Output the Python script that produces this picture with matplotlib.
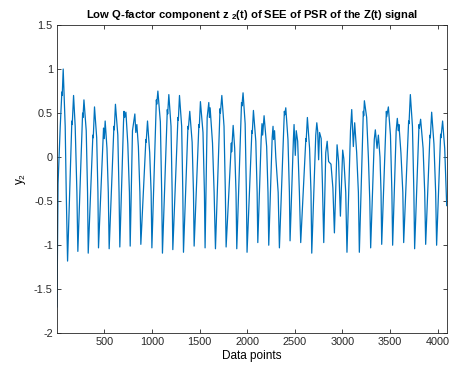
import matplotlib
matplotlib.use('Agg')
import matplotlib.pyplot as plt
from matplotlib.ticker import FormatStrFormatter

plt.rcParams['font.family'] = ['Liberation Sans', 'DejaVu Sans']
plt.rcParams['mathtext.fontset'] = 'custom'
plt.rcParams['mathtext.rm'] = 'Liberation Sans'
plt.rcParams['mathtext.bf'] = 'Liberation Sans:bold'
plt.rcParams['axes.unicode_minus'] = False

# vertices of the signal (peaks, troughs, shoulders)
sample_idx = [
    1, 12, 35, 52, 56, 66, 87, 98,
    112, 157, 161, 175, 192, 210,
    220, 270, 274, 284, 308, 322,
    329, 378, 382, 395, 418, 431,
    437, 490, 498, 507, 526, 540,
    549, 599, 603, 615, 640, 653,
    661, 700, 705, 712, 725, 745, 762,
    770, 794, 819, 829, 840, 856, 872,
    882, 935, 938, 952, 975, 990,
    998, 1045, 1049, 1061, 1087, 1101,
    1109, 1160, 1164, 1176, 1199, 1211,
    1218, 1272, 1276, 1288, 1311, 1323,
    1330, 1377, 1381, 1396, 1421, 1435,
    1442, 1492, 1496, 1508, 1535, 1550,
    1557, 1579, 1596, 1603, 1610, 1635, 1652,
    1666, 1714, 1718, 1733, 1756, 1770,
    1778, 1826, 1833, 1836, 1852, 1868, 1882,
    1890, 1940, 1944, 1956, 1978, 1991,
    1998, 2049, 2053, 2065, 2090, 2104,
    2111, 2146, 2155, 2162, 2177, 2204, 2218,
    2226, 2262, 2271, 2277, 2287, 2300, 2325,
    2338, 2390, 2395, 2405, 2428, 2443,
    2450, 2485, 2492, 2505, 2515, 2530, 2548,
    2562, 2616, 2619, 2632, 2655, 2670,
    2678, 2720, 2731, 2740, 2750, 2760, 2777, 2790,
    2804, 2825, 2840, 2855, 2880, 2900,
    2916, 2944, 2960,
    2979, 3003, 3015, 3035,
    3048, 3085, 3098, 3115, 3129, 3150, 3168,
    3178, 3220, 3224, 3231, 3255, 3273, 3288,
    3297, 3335, 3346, 3364, 3378, 3395, 3406,
    3413, 3462, 3466, 3483, 3505, 3520,
    3528, 3565, 3577, 3588, 3594, 3615, 3635,
    3644, 3696, 3700, 3714, 3736, 3751,
    3759, 3805, 3809, 3822, 3848, 3865,
    3875, 3920, 3924, 3938, 3962, 3980,
    3990, 4032, 4036, 4053, 4075, 4096,
]
z2 = [
    -1.70, -0.30, 0.35, 0.74, 0.70, 1.00, 0.35, -0.40,
    -1.18, 0.41, 0.37, 0.70, 0.35, -0.40,
    -1.07, 0.50, 0.45, 0.65, 0.30, -0.40,
    -1.09, 0.25, 0.22, 0.57, 0.22, -0.40,
    -1.03, 0.33, 0.21, 0.41, 0.10, -0.40,
    -1.04, 0.35, 0.31, 0.60, 0.25, -0.40,
    -1.02, 0.40, 0.52, 0.45, 0.51, 0.15, -0.40,
    -1.01, 0.30, 0.49, 0.28, 0.37, 0.12, -0.40,
    -0.99, 0.20, 0.17, 0.41, 0.05, -0.40,
    -1.03, 0.65, 0.60, 0.75, 0.40, -0.40,
    -1.09, 0.54, 0.49, 0.71, 0.35, -0.40,
    -1.05, 0.45, 0.42, 0.70, 0.35, -0.40,
    -1.08, 0.35, 0.32, 0.52, 0.17, -0.40,
    -1.01, 0.37, 0.34, 0.63, 0.28, -0.40,
    -1.03, 0.45, 0.62, 0.45, 0.56, 0.16, -0.40,
    -1.04, 0.55, 0.50, 0.70, 0.35, -0.40,
    -1.02, 0.00, 0.16, 0.06, 0.36, 0.10, -0.40,
    -1.04, 0.62, 0.58, 0.73, 0.38, -0.40,
    -1.08, 0.30, 0.27, 0.53, 0.18, -0.40,
    -0.97, 0.20, 0.38, 0.25, 0.47, 0.12, -0.40,
    -1.00, 0.22, 0.35, 0.20, 0.30, 0.00, -0.40,
    -1.03, 0.52, 0.48, 0.56, 0.20, -0.40,
    -0.95, 0.20, 0.37, 0.02, 0.30, 0.18, -0.40,
    -0.97, 0.21, 0.18, 0.45, 0.10, -0.40,
    -1.09, 0.25, 0.39, 0.30, -0.03, 0.28, 0.21, -0.30,
    -0.97, 0.05, 0.18, -0.05, -0.08, -0.35,
    -0.86, 0.14, -0.05,
    -0.67, 0.08, -0.02, -0.40,
    -1.08, 0.30, 0.54, 0.12, 0.39, 0.05, -0.40,
    -1.08, 0.52, 0.47, 0.64, 0.45, 0.00, -0.50,
    -1.03, 0.20, 0.31, 0.10, 0.25, 0.00, -0.40,
    -0.99, 0.52, 0.46, 0.57, 0.25, -0.40,
    -1.00, 0.30, 0.44, 0.30, 0.37, 0.05, -0.40,
    -0.97, 0.41, 0.38, 0.71, 0.35, -0.40,
    -1.04, 0.37, 0.33, 0.43, 0.10, -0.40,
    -0.99, 0.25, 0.22, 0.51, 0.15, -0.40,
    -1.00, 0.26, 0.22, 0.41, 0.10, -0.55,
]

x_ticks = [500, 1000, 1500, 2000, 2500, 3000, 3500, 4000]
y_ticks = [-2, -1.5, -1, -0.5, 0, 0.5, 1, 1.5]

fig = plt.figure(figsize=(4.59, 3.67), dpi=100)
ax = fig.add_axes([0.1242, 0.0918, 0.8490, 0.8401])

ax.plot(sample_idx, z2, color='#0072BD', linewidth=0.9)

ax.set_xlim(1, 4096)
ax.set_ylim(-2, 1.5)
ax.set_xticks(x_ticks)
ax.set_yticks(y_ticks)
ax.yaxis.set_major_formatter(FormatStrFormatter('%g'))
ax.tick_params(direction='in', length=3, width=0.6, labelsize=7.8,
               top=True, right=True, colors='#262626', pad=3)
for s in ax.spines.values():
    s.set_color('#262626')
    s.set_linewidth(0.6)

ax.set_title(r'Low Q-factor component z $_\mathbf{2}$(t) of SEE of PSR of the Z(t) signal',
             fontsize=8.1, fontweight='bold', pad=5)
ax.set_xlabel('Data points', fontsize=8.5, labelpad=2)
ax.set_ylabel(r'y$_2$', fontsize=8.5, labelpad=4)

fig.savefig('out.png', dpi=100)
